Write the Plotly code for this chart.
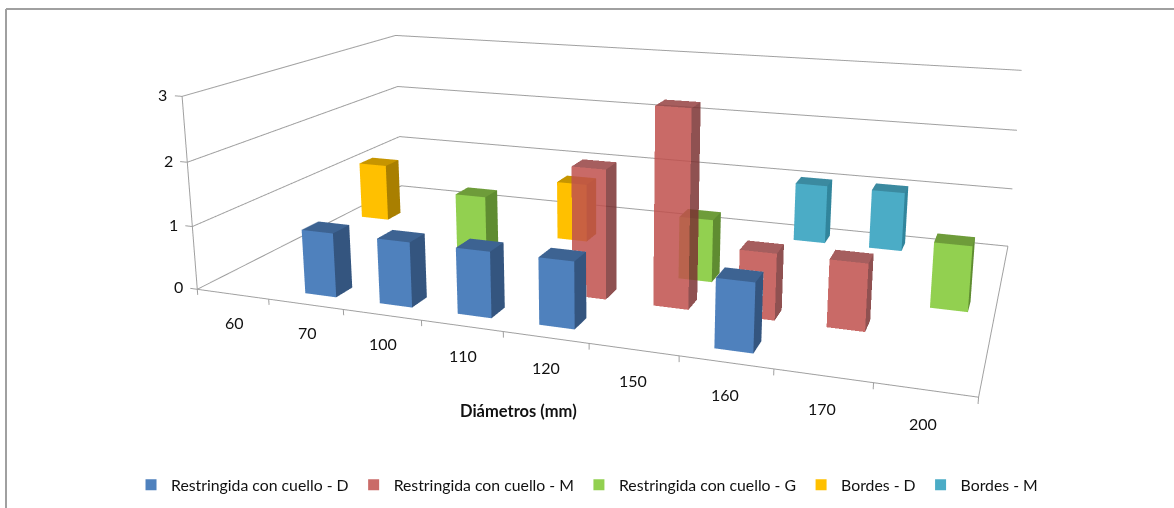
import plotly.graph_objects as go

categories = ["60","70","100","110","120","150","160","170","200"]
series_names = ["Restringida con cuello - D","Restringida con cuello - M","Restringida con cuello - G","Bordes - D","Bordes - M"]
v_d = [0,1,1,1,1,0,1,0,0]
v_m = [0,0,0,0,2,3,1,1,0]
v_g = [0,0,1,0,0,1,0,0,1]
v_bd = [1,0,0,1,0,0,0,0,0]
v_bm = [0,0,0,0,0,0,1,1,0]
series_values = [v_d, v_m, v_g, v_bd, v_bm]
z_ticks = [0,1,2,3]

W,H = 1174,508
EYE = (0.58572,-2.27095,0.77669)
CENTER = (0.09454,-0.21018,-0.13246)
UP = (-0.09697,0.29537,1)
ASPECT = (2.89486,0.99034,0.72801)
S = (0.22867,-0.07323,0.07426,0.34487,-0.01870,0.14996)
R = 30.0

def tf(x,y,z):
    return x+S[0]*y+S[1]*z, y+S[2]*x+S[3]*z, z+S[4]*x+S[5]*y

SHADES=[("#4F81BD","#34557F","#3D6392"),("#C0504D","#7B3333","#964242"),("#92D050","#5F8C31","#6E9C3A"),("#FFC000","#A97F00","#C69500"),("#4BACC6","#31859C","#3B8AA0")]
OP=[1,0.85,1,1,1]
BW=0.42; BD=0.36
fig=go.Figure()
for s,vals in enumerate(series_values):
    xs,ys,zs,i_,j_,k_,fc=[],[],[],[],[],[],[]
    for i,v in enumerate(vals):
        if not v: continue
        x0,x1,y0,y1=i+.5-BW/2,i+.5+BW/2,s+.5-BD/2,s+.5+BD/2
        for corners,col in [([(x0,y0,0),(x1,y0,0),(x1,y0,v),(x0,y0,v)],SHADES[s][0]),
                            ([(x1,y0,0),(x1,y1,0),(x1,y1,v),(x1,y0,v)],SHADES[s][1]),
                            ([(x0,y0,v),(x1,y0,v),(x1,y1,v),(x0,y1,v)],SHADES[s][2])]:
            n=len(xs)
            for q in corners:
                a,b,d=tf(*q); xs.append(a);ys.append(b);zs.append(d)
            i_+=[n,n];j_+=[n+1,n+2];k_+=[n+2,n+3];fc+=[col,col]
    fig.add_trace(go.Mesh3d(x=xs,y=ys,z=zs,i=i_,j=j_,k=k_,facecolor=fc,opacity=OP[s],flatshading=True,
        lighting=dict(ambient=1,diffuse=0,specular=0,roughness=1,fresnel=0),hoverinfo="skip",name=series_names[s],showlegend=False))
lx,ly,lz=[],[],[]
def seg(*P):
    for q in P:
        a,b,d=tf(*q); lx.append(a);ly.append(b);lz.append(d)
    lx.append(None);ly.append(None);lz.append(None)
for t in z_ticks:
    seg((0,0,t),(0,5,t),(9,5,t))
seg((0,0,0),(9,0,0),(9,5,0))
seg((0,0,0),(0,0,3))
for t in z_ticks: seg((0,0,t),(-.1,0,t))
for i in range(10): seg((i,0,0),(i,0,-.09))
fig.add_trace(go.Scatter3d(x=lx,y=ly,z=lz,mode="lines",line=dict(color="#A0A0A0",width=2),hoverinfo="skip",showlegend=False))
for s,n in enumerate(series_names):
    fig.add_trace(go.Scatter(x=[None],y=[None],mode="markers",name=n,marker=dict(symbol="square",size=11,color=SHADES[s][0] if s!=1 else "#CA6B68")))
anns=[]
FONT=dict(family="Lato",size=16,color="#111111")
for i,c_ in enumerate(categories):
    a,b,d=tf(i+.5,0,-.45)
    anns.append(dict(x=a,y=b,z=d,text=c_,showarrow=False,font=FONT))
for t in z_ticks:
    a,b,d=tf(-.27,0,t)
    anns.append(dict(x=a,y=b,z=d,text=str(t),showarrow=False,font=FONT))
a,b,d=tf(4.17,0,-1.17)
anns.append(dict(x=a,y=b,z=d,text="<b>Diámetros (mm)</b>",showarrow=False,font=dict(family="Lato",size=16.5,color="#111111")))
fig.update_layout(width=W,height=H,margin=dict(l=0,r=0,t=0,b=0),paper_bgcolor="white",plot_bgcolor="white",
    xaxis=dict(visible=False),yaxis=dict(visible=False),
    scene=dict(domain=dict(x=[0,1],y=[0,1]),
        xaxis=dict(visible=False,range=[4.5-R,4.5+R]),yaxis=dict(visible=False,range=[2.5-R,2.5+R]),zaxis=dict(visible=False,range=[1.5-R,1.5+R]),
        aspectmode="manual",aspectratio=dict(x=ASPECT[0]*2*R/9,y=ASPECT[1]*2*R/5,z=ASPECT[2]*2*R/3),
        camera=dict(eye=dict(x=EYE[0],y=EYE[1],z=EYE[2]),center=dict(x=CENTER[0],y=CENTER[1],z=CENTER[2]),up=dict(x=UP[0],y=UP[1],z=UP[2]),projection=dict(type="perspective")),
        annotations=anns),
    legend=dict(orientation="h",x=.1116,y=.079,xanchor="left",yanchor="top",font=dict(family="Lato",size=15.8,color="#111111"),bgcolor="rgba(0,0,0,0)"),
    shapes=[dict(type="line",xref="paper",yref="paper",x0=6/W,x1=1,y0=1-9/H,y1=1-9/H,line=dict(color="#A0A0A0",width=2)),
            dict(type="line",xref="paper",yref="paper",x0=6/W,x1=6/W,y0=0,y1=1-9/H,line=dict(color="#A0A0A0",width=2))])
fig.write_html("out.html",config=dict(displayModeBar=False),post_script="document.body.style.margin='0';document.body.style.overflow='hidden';")
